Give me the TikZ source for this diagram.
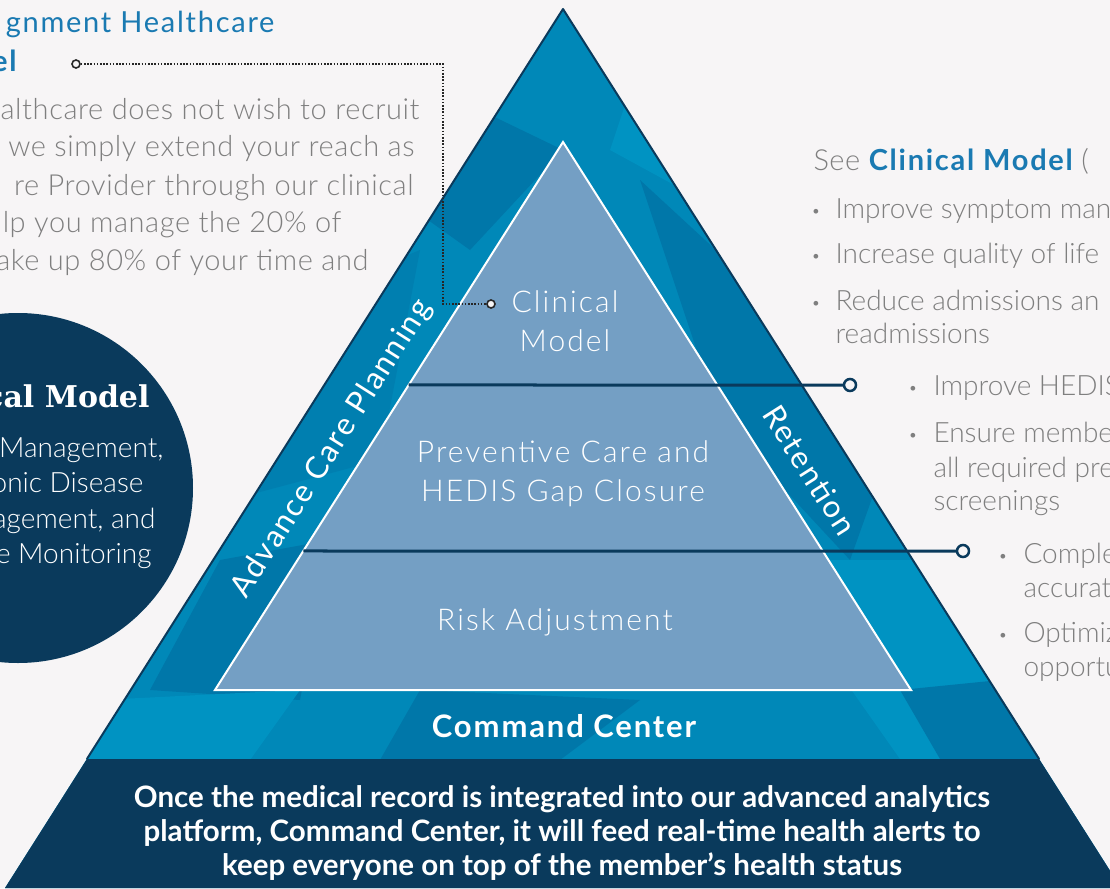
\documentclass[tikz,border=0pt]{standalone}
\usepackage{xcolor}
\usepackage{fontspec}
\setmainfont{Lato}
\newfontfamily\lightfont{Lato Light}
\newfontfamily\introfont{Lato Light}[LetterSpace = 2]
\newfontfamily\widelight{Lato Light}[LetterSpace = 7]
\newfontfamily\wideregular{Lato}[LetterSpace = 6]
\newfontfamily\seriffont{DejaVu Serif}
\usepackage{tikz}
\usetikzlibrary{calc}
\usetikzlibrary{positioning}

\definecolor{paper}{HTML}{F7F5F6}
\definecolor{navy}{HTML}{0A3A5C}
\definecolor{pyrblue}{HTML}{0088B8}
\definecolor{facetdark}{HTML}{0077A9}
\definecolor{facetmid}{HTML}{007FB0}
\definecolor{facetlight}{HTML}{0093C2}
\definecolor{tierblue}{HTML}{749FC4}
\definecolor{linkblue}{HTML}{1A7AB2}
\definecolor{greytext}{HTML}{7F7F7F}

\tikzset{
  tier/.style = {text = white, align = center, font = \widelight\fontsize{30}{39}\selectfont},
  side/.style = {text = white, font = \wideregular\fontsize{31}{36}\selectfont},
  body/.style = {text = greytext, font = \lightfont\fontsize{28}{36}\selectfont},
  intro/.style = {text = greytext, font = \introfont\fontsize{29}{36}\selectfont, anchor = base east},
  dot/.style = {text = greytext, font = \lightfont\fontsize{16}{20}\selectfont},
  disc/.style = {text = white, font = \lightfont\fontsize{28}{36}\selectfont, anchor = base east},
  pin/.style = {circle, draw = navy, line width = 2.5pt, fill = paper, inner sep = 0pt, minimum size = 12pt},
  dotpin/.style = {circle, draw = black!85, line width = 1.6pt, fill = paper, inner sep = 0pt, minimum size = 8pt},
  divider/.style = {navy, line width = 3pt},
}

\begin{document}
\begin{tikzpicture}[x = 1pt, y = -1pt]
% canvas
  \useasboundingbox (0,0) rectangle (1110,888);
  \clip (0,0) rectangle (1110,888);
  \fill[paper] (0,0) rectangle (1110,888);

% outer pyramid
  \node[shape = coordinate] (outerTop) at (563,9) {};
  \node[shape = coordinate] (outerLeft) at (5,888) {};
  \node[shape = coordinate] (outerRight) at (1121,888) {};
  \fill[pyrblue] (outerTop) -- (outerLeft) -- (outerRight) -- cycle;

% facets
  \begin{scope}
    \clip (outerTop) -- (outerLeft) -- (outerRight) -- cycle;
    \fill[facetdark] (480,110) -- (563,150) -- (470,250) -- (400,200) -- cycle;
    \fill[facetlight] (640,60) -- (720,210) -- (610,150) -- cycle;
    \fill[facetdark] (640,180) -- (900,420) -- (850,560) -- (720,420) -- cycle;
    \fill[facetmid] (300,300) -- (420,250) -- (380,460) -- (230,500) -- cycle;
    \fill[facetdark] (220,560) -- (330,540) -- (300,700) -- (150,690) -- cycle;
    \fill[facetlight] (760,560) -- (1000,560) -- (1100,760) -- (900,759) -- cycle;
    \fill[facetdark] (420,690) -- (640,700) -- (560,760) -- (380,760) -- cycle;
    \fill[facetlight] (100,700) -- (300,690) -- (250,760) -- (80,760) -- cycle;
    \fill[facetdark] (900,690) -- (1000,680) -- (1040,759) -- (940,759) -- cycle;
  \end{scope}

% command center band
  \node[shape = coordinate] (bandLeft) at ($(outerTop)!{750/879}!(outerLeft)$) {};
  \node[shape = coordinate] (bandRight) at ($(outerTop)!{750/879}!(outerRight)$) {};
  \fill[navy] (bandLeft) -- (bandRight) -- (outerRight) -- (outerLeft) -- cycle;
  \draw[navy, line width = 2pt, line join = round] (bandLeft) -- (outerTop) -- (bandRight);

% inner pyramid
  \node[shape = coordinate] (innerTop) at (563,142) {};
  \node[shape = coordinate] (innerLeft) at (215,690) {};
  \node[shape = coordinate] (innerRight) at (911,690) {};
  \filldraw[fill = tierblue, draw = white, line width = 2pt]
    (innerTop) -- (innerLeft) -- (innerRight) -- cycle;

% tier dividers
  \node[pin] (pinTop) at (850,385) {};
  \node[pin] (pinLow) at (963,551) {};
  \node[shape = coordinate] (cutTop) at ($(innerTop)!{243/548}!(innerLeft)$) {};
  \node[shape = coordinate] (cutLow) at ($(innerTop)!{409/548}!(innerLeft)$) {};
  \draw[divider] (cutTop) -- (pinTop);
  \draw[divider] (cutLow) -- (pinLow);

% tier labels
  \node[tier] (clinical) at (565,321) {Clinical\\Model};
  \node[tier] (preventive) at (563,474) {Preventive Care and\\HEDIS Gap Closure};
  \node[tier, anchor = base] (risk) at (555,630) {Risk Adjustment};
  \node[side, rotate = 57.6] (planning) at (332,449) {Advance Care Planning};
  \node[side, rotate = -57.6] (retention) at (810,470) {Retention};
  \node[side, anchor = base, font = \wideregular\bfseries\fontsize{31}{36}\selectfont] (command) at (564,737) {Command Center};
  \node[text = white, align = center, font = \bfseries\fontsize{29.5}{34}\selectfont] (alerts) at (562,833)
    {Once the medical record is integrated into our advanced analytics\\
     platform, Command Center, it will feed real-time health alerts to\\
     keep everyone on top of the member's health status};

% left column
  \node[anchor = base east, text = linkblue, font = \wideregular\fontsize{29}{34}\selectfont] (brand) at (278,33) {gnment Healthcare};
  \node[anchor = base east, text = linkblue, font = \wideregular\bfseries\fontsize{29}{34}\selectfont] (brandModel) at (20,72) {el};
  \node[intro] (introA) at (423,120) {althcare does not wish to recruit};
  \node[intro] (introB) at (418,157) {we simply extend your reach as};
  \node[intro] (introC) at (417,195) {re Provider through our clinical};
  \node[intro] (introD) at (345,232) {lp you manage the 20\% of};
  \node[intro] (introE) at (372,270) {ake up 80\% of your time and};

% clinical model disc
  \node[circle, fill = navy, minimum size = 350pt, inner sep = 0pt] (modelDisc) at (18,488) {};
  \node[disc, font = \seriffont\bfseries\fontsize{30}{36}\selectfont] (discTitle) at (153,407) {cal Model};
  \node[disc] (discA) at (167,457) {Management,};
  \node[disc] (discB) at (147,492) {onic Disease};
  \node[disc] (discC) at (159,528) {agement, and};
  \node[disc] (discD) at (155,563) {e Monitoring};

% dotted leader
  \node[dotpin] (leaderStart) at (76,64) {};
  \node[dotpin] (leaderEnd) at (491,304) {};
  \node[shape = coordinate] (leaderBend) at (443,64) {};
  \draw[black!85, line width = 1.6pt, dash pattern = on 1.6pt off 1.6pt]
    (leaderStart) -- (leaderBend) |- (leaderEnd);

% right column
  \node[body, anchor = base west, font = \introfont\fontsize{29}{36}\selectfont] (seeModel) at (810,170)
    {See {\wideregular\bfseries\color{linkblue}Clinical Model} (};
  \node[dot, anchor = base] (dotA) at (816,216) {•};
  \node[body, anchor = base west] (goalA) at (832,218) {Improve symptom man};
  \node[dot, anchor = base] (dotB) at (816,261) {•};
  \node[body, anchor = base west] (goalB) at (832,263) {Increase quality of life};
  \node[dot, anchor = base] (dotC) at (816,308) {•};
  \node[body, anchor = base west] (goalC) at (832,310) {Reduce admissions an};
  \node[body, anchor = base west] (goalCb) at (832,343) {readmissions};
  \node[dot, anchor = base] (dotD) at (913,393) {•};
  \node[body, anchor = base west] (hedisA) at (930,395) {Improve HEDIS};
  \node[dot, anchor = base] (dotE) at (913,440) {•};
  \node[body, anchor = base west] (hedisB) at (930,442) {Ensure membe};
  \node[body, anchor = base west] (hedisBb) at (930,477) {all required pre};
  \node[body, anchor = base west] (hedisBc) at (930,510) {screenings};
  \node[dot, anchor = base] (dotF) at (1003,561) {•};
  \node[body, anchor = base west] (riskA) at (1020,563) {Comple};
  \node[body, anchor = base west] (riskAb) at (1020,597) {accurat};
  \node[dot, anchor = base] (dotG) at (1003,640) {•};
  \node[body, anchor = base west] (riskB) at (1020,642) {Optimiz};
  \node[body, anchor = base west] (riskBb) at (1020,676) {opportu};

\end{tikzpicture}
\end{document}
